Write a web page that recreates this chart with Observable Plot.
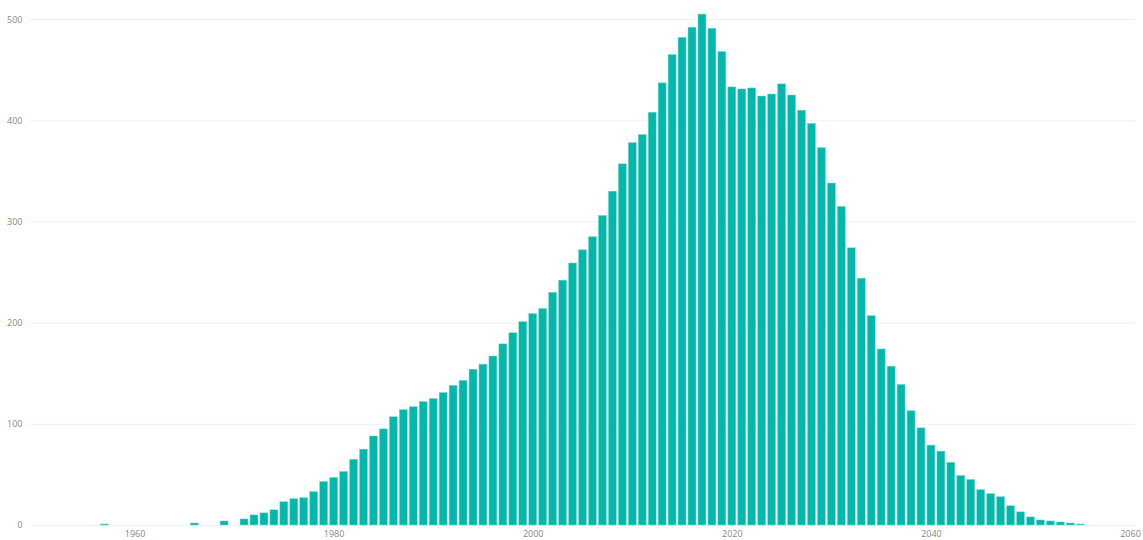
<!DOCTYPE html>
<html>
<head>
<meta charset="utf-8">
<script src="https://cdn.jsdelivr.net/npm/d3@7"></script>
<script src="https://cdn.jsdelivr.net/npm/@observablehq/plot@0.6"></script>
<style>
  html, body { margin: 0; padding: 0; background: #fff; }
  #chart svg { display: block; }
</style>
</head>
<body>
<div id="chart"></div>
<script>
const years = [1957, 1966, 1969,
  1971, 1972, 1973, 1974, 1975, 1976, 1977, 1978, 1979, 1980,
  1981, 1982, 1983, 1984, 1985, 1986, 1987, 1988, 1989, 1990,
  1991, 1992, 1993, 1994, 1995, 1996, 1997, 1998, 1999, 2000,
  2001, 2002, 2003, 2004, 2005, 2006, 2007, 2008, 2009, 2010,
  2011, 2012, 2013, 2014, 2015, 2016, 2017, 2018, 2019, 2020,
  2021, 2022, 2023, 2024, 2025, 2026, 2027, 2028, 2029, 2030,
  2031, 2032, 2033, 2034, 2035, 2036, 2037, 2038, 2039, 2040,
  2041, 2042, 2043, 2044, 2045, 2046, 2047, 2048, 2049, 2050,
  2051, 2052, 2053, 2054, 2055];
const counts = [1, 2, 4,
  6, 10, 12, 15, 23, 26, 27, 33, 43, 47,
  53, 65, 75, 88, 95, 107, 114, 117, 122, 125,
  131, 138, 143, 154, 159, 167, 179, 190, 201, 209,
  214, 230, 242, 259, 272, 285, 306, 330, 357, 378,
  386, 408, 437, 465, 482, 492, 505, 491, 468, 433,
  431, 432, 424, 426, 436, 425, 410, 397, 373, 338,
  315, 274, 244, 207, 174, 157, 139, 113, 96, 79,
  73, 62, 49, 45, 35, 31, 28, 19, 13, 8,
  5, 4, 3, 2, 1];
const xTicks = [1960, 1980, 2000, 2020, 2040, 2060];
const yTicks = [0, 100, 200, 300, 400, 500];

const data = years.map((y, i) => ({year: y, count: counts[i]}));

const chart = Plot.plot({
  width: 1143,
  height: 540,
  marginLeft: 30,
  marginRight: 8,
  marginTop: 9,
  marginBottom: 15,
  style: {fontFamily: "'Open Sans', 'DejaVu Sans', sans-serif", fontSize: "9px", color: "#888", background: "#fff"},
  x: {domain: [1949.5, 2060.5], label: null},
  y: {domain: [0, 510], label: null},
  marks: [
    Plot.gridY(yTicks, {stroke: "#efefef", strokeOpacity: 1, strokeWidth: 1}),
    Plot.rectY(data, {
      x1: d => d.year - 0.4,
      x2: d => d.year + 0.4,
      y: "count",
      fill: "#01B8AA",
      stroke: "#7fd9d1",
      strokeWidth: 0.5
    }),
    Plot.axisX({ticks: xTicks, tickSize: 0, tickPadding: 5, tickFormat: d => String(d), fill: "#888", label: null}),
    Plot.axisY({ticks: yTicks, tickSize: 0, tickPadding: 8, fill: "#888", label: null})
  ]
});
document.getElementById("chart").appendChild(chart);
</script>
</body>
</html>
